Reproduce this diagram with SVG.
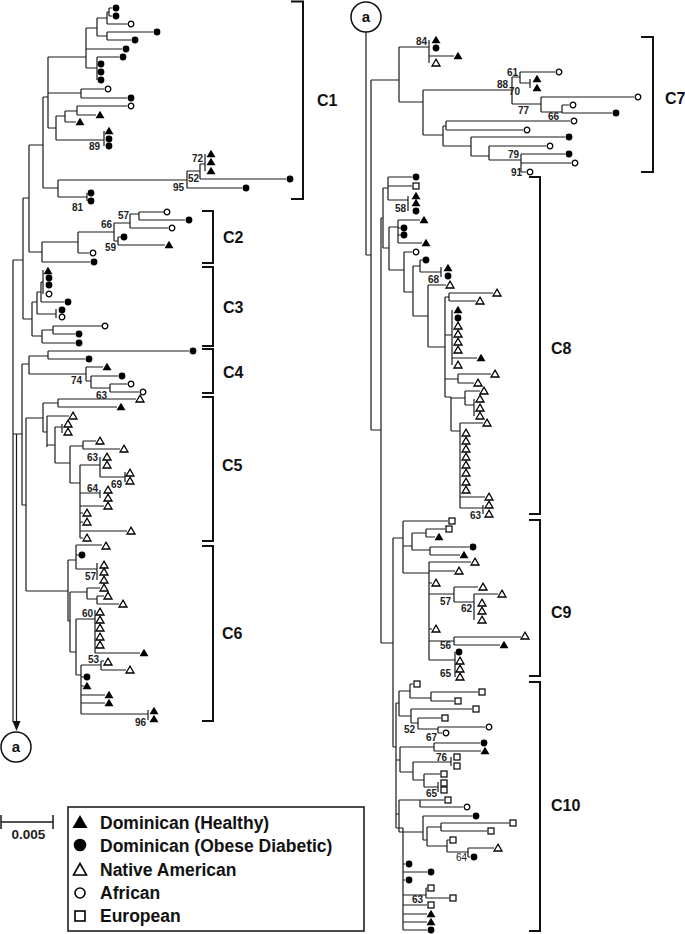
<svg xmlns="http://www.w3.org/2000/svg" width="685" height="934" viewBox="0 0 685 934">
<style>
.br{fill:none;stroke:#1a1a1a;stroke-width:1.2}
.bk{fill:none;stroke:#111;stroke-width:2}
.bs{font-family:"Liberation Sans",Arial,sans-serif;font-weight:bold;font-size:10px;fill:#222;text-anchor:end}
.cl{font-family:"Liberation Sans",Arial,sans-serif;font-weight:bold;font-size:16px;fill:#111}
.lg{font-family:"Liberation Sans",Arial,sans-serif;font-weight:bold;font-size:17.5px;fill:#111}
.ac{font-family:"Liberation Sans",Arial,sans-serif;font-weight:bold;font-size:15px;fill:#111;text-anchor:middle}
</style>
<defs>
<polygon id="T" points="0,-4.2 4.5,3.3 -4.5,3.3" fill="#000"/>
<polygon id="t" points="0,-3.8 4,3 -4,3" fill="#fff" stroke="#000" stroke-width="1.3"/>
<circle id="C" r="3.4" fill="#000"/>
<circle id="c" r="2.8" fill="#fff" stroke="#000" stroke-width="1.3"/>
<rect id="s" x="-3" y="-3" width="6" height="6" fill="#fff" stroke="#000" stroke-width="1.2"/>
</defs>
<rect width="685" height="934" fill="#fff"/>

<g id="connectors">
<path class="br" d="M13 260V722M13 260H23M13 434H22M16.5 434V722M23 198V319M23 198H29M23 319H32M29 145V252M29 145H43M29 252H42"/>
<polygon points="16.5,731 12.5,721 20.5,721" fill="#111"/>
<path class="br" d="M43 97V188M43 97H48M43 188H58M48 57V128M48 57H86M48 93H81M48 128H56M86 28V68M86 28H97M86 49H122M86 68H97M97 18V36M97 18H107M97 36H107M107 12V24M107 12H109M107 24H127M109 8V16M109 8H112M109 16H112M107 32V40M107 32H153M107 40H131M97 57V80M97 57H119M81 89V98M81 89H104M81 98H127M56 116V140M56 116H65M56 140H104M65 111V122M65 111H77M65 122H76M77 106V115M77 106H127M77 115H96M104 131V146M58 180V197M58 180H187M58 197H87M87 193V201M187 171V188M187 171H200M187 188H242M200 164V179M200 164H205M200 179H286M205 154V171"/>
<path class="br" d="M42 242V262M42 242H78M42 262H90M78 232V253M78 232H114M78 253H89M114 223V241M114 223H130M114 241H118M130 214V228M130 214H139M130 228H168M139 212V220M139 212H164M139 220H185M118 237V245M118 237H121M118 245H165"/>
<path class="br" d="M32 302V336M32 302H37M32 336H42M37 292V314M37 292H41M37 314H56M41 282V302M41 282H43M41 302H64M43 270V294M56 309V318M42 330V343M42 330H53M42 343H75M53 326V334M53 326H102M53 334H75"/>
<path class="br" d="M22 364V505M22 505H26M22 364H29M29 356V374M29 356H48M29 374H86M48 351V359M48 351H189M48 359H85M86 367V381M86 367H103M86 381H91M91 376V388M91 376H118M91 388H110M110 384V392M110 384H127M110 392H139"/>
<path class="br" d="M26 418V591M26 418H43M26 591H68M43 403V432M43 403H58M43 432H47M58 399V407M58 399H136M58 407H117M47 416V447M47 416H69M47 445H55M55 427V463M55 427H62M55 463H70M62 424V433M70 446V483M70 446H83M70 483H80M83 441V449M83 441H96M83 449H120M80 465V538M80 465H100M80 493H100M80 506H104M80 531H127M80 513H83M80 522H83M80 538H83M100 457V477M100 477H125M125 472V482M100 490V498"/>
<path class="br" d="M68 560V621M68 560H76M68 621H70M76 545V569M76 545H102M76 569H97M76 555H79M97 563V580M70 592V652M70 592H87M70 652H76M87 588V599M87 588H100M87 599H97M97 596V604M97 596H104M97 604H119M76 619V675M76 619H95M76 675H81M95 610V653M95 653H140M81 665V714M81 665H101M81 695H105M81 703H105M81 714H148M81 677H84M81 686H84M101 661V670M101 661H104M101 670H126M148 710V720"/>
<path class="br" d="M366 32V255M366 255H371M371 80V430M371 80H399M371 430H381"/>
<path class="br" d="M399 47V102M399 47H429M399 102H423M429 40V63M429 56H454M423 90V135M423 90H512M423 135H443M512 77V104M512 77H520M512 104H541M520 72V83M520 72H555M520 83H530M530 79V88M541 97V112M541 97H634M541 112H562M562 105V113M562 105H569M562 113H612M443 126V146M443 126H446M443 146H471M446 121V130M446 121H570M446 130H523M471 137V156M471 137H565M471 156H489M489 146V160M489 146H546M489 160H521M521 154V172M521 154H565M521 163H571M521 172H526"/>
<path class="br" d="M381 218V643M381 218H383M381 643H393M383 188V248M383 188H388M383 248H389M388 177V200M388 177H412M388 186H412M388 200H408M408 196V211M389 227V270M389 227H398M389 270H404M398 220V243M398 220H420M398 243H422M398 228H401M398 235H401M404 252V292M404 252H412M404 292H413M413 266V316M413 266H420M413 316H428M420 260V272M420 260H423M420 272H441M441 267V277M428 285V347M428 285H446M428 347H445M445 297V397M445 297H449M445 335H452M445 379H458M445 397H451M449 293V301M449 293H493M449 301H476M452 310V365M452 358H477M458 374V383M458 374H491M458 383H474M451 397V431M451 398H465M451 431H460M465 391V405M465 391H480M465 405H474M474 399V416M460 423V508M460 423H483M460 497H485M460 508H483M483 505V514"/>
<path class="br" d="M393 538V747M393 538H403M393 747H396M403 521V573M403 521H448M403 546H412M403 573H429M412 533V550M412 533H426M412 550H430M426 529V537M426 529H445M426 537H435M430 547V555M430 547H469M430 555H460M429 562V660M429 562H471M429 571H455M429 583H432M429 594H454M429 629H432M429 641H454M429 660H455M454 587V602M454 587H478M454 602H474M474 594V620M474 594H498M454 637V645M454 637H521M454 645H500M455 652V677"/>
<path class="br" d="M396 703V828M396 703H399M396 760H400M396 814H399M396 828H403M399 691V716M399 691H410M399 716H411M410 684V698M410 684H413M410 698H431M431 692V701M431 692H478M431 701H454M411 709V723M411 709H472M411 723H418M418 718V729M418 718H441M418 729H438M438 727V733M438 727H485M438 733H442M400 747V772M400 747H434M400 772H413M434 743V751M434 743H480M434 751H481M413 762V780M413 762H451M413 780H424M451 757V766M424 774V787M424 774H440M424 787H438M438 782V792M399 800V832M399 800H420M399 832H423M420 800V807M420 800H444M420 807H463M423 816V840M423 816H472M423 840H427M427 827V846M427 827H441M427 846H447M441 823V831M441 823H509M441 831H487M447 840V852M447 840H449M447 852H468M468 848V857M468 848H494M468 857H470M403 828V930M403 864H405M403 872H427M403 880H405M403 895H426M403 905H427M403 914H427M403 922H427M403 930H427M426 888V898M426 888H427M426 898H449"/>
</g>

<g id="C1">
<use href="#C" x="116" y="8"/><use href="#C" x="116" y="16"/><use href="#c" x="131" y="24"/><use href="#C" x="157" y="32"/><use href="#C" x="135" y="40"/><use href="#C" x="126" y="49"/><use href="#C" x="123" y="57"/><use href="#C" x="101" y="64"/><use href="#C" x="101" y="72"/><use href="#C" x="101" y="80"/><use href="#c" x="108" y="89"/><use href="#C" x="131" y="98"/><use href="#c" x="131" y="106"/><use href="#T" x="100" y="115"/><use href="#T" x="80" y="122"/><use href="#T" x="109" y="131"/><use href="#C" x="109" y="139"/><use href="#C" x="109" y="146"/><use href="#T" x="211" y="154"/><use href="#T" x="211" y="162"/><use href="#T" x="211" y="171"/><use href="#C" x="290" y="179"/><use href="#C" x="246" y="188"/><use href="#C" x="91" y="193"/><use href="#C" x="91" y="201"/>
<text class="bs" x="100" y="150">89</text><text class="bs" x="203" y="162">72</text><text class="bs" x="199" y="182">52</text><text class="bs" x="184" y="191">95</text><text class="bs" x="83" y="211">81</text>
<path class="bk" d="M291 1.5H303V199H291"/><text class="cl" x="317" y="106">C1</text>
</g>

<g id="C2">
<use href="#c" x="167" y="212"/><use href="#C" x="189" y="220"/><use href="#c" x="172" y="228"/><use href="#C" x="124" y="237"/><use href="#T" x="169" y="245"/><use href="#c" x="93" y="253"/><use href="#C" x="94" y="262"/>
<text class="bs" x="129" y="219">57</text><text class="bs" x="112" y="228">66</text><text class="bs" x="116" y="251">59</text>
<path class="bk" d="M202 211H213V263H202"/><text class="cl" x="223" y="243">C2</text>
</g>

<g id="C3">
<use href="#T" x="48" y="271"/><use href="#C" x="49" y="278"/><use href="#C" x="49" y="285"/><use href="#c" x="49" y="294"/><use href="#C" x="68" y="302"/><use href="#C" x="62" y="310"/><use href="#c" x="62" y="317"/><use href="#c" x="105" y="326"/><use href="#C" x="79" y="334"/><use href="#C" x="79" y="343"/>
<path class="bk" d="M202 267H213V346H202"/><text class="cl" x="223" y="313">C3</text>
</g>

<g id="C4">
<use href="#C" x="193" y="351"/><use href="#C" x="89" y="359"/><use href="#T" x="107" y="367"/><use href="#C" x="122" y="376"/><use href="#c" x="131" y="384"/><use href="#c" x="143" y="392"/>
<text class="bs" x="82" y="384">74</text><text class="bs" x="107" y="399">63</text>
<path class="bk" d="M202 349H213V393H202"/><text class="cl" x="223" y="378">C4</text>
</g>

<g id="C5">
<use href="#t" x="140" y="399"/><use href="#T" x="121" y="407"/><use href="#t" x="73" y="416"/><use href="#t" x="68" y="424"/><use href="#t" x="68" y="432"/><use href="#t" x="100" y="441"/><use href="#t" x="124" y="449"/><use href="#t" x="107" y="457"/><use href="#t" x="107" y="465"/><use href="#t" x="130" y="473"/><use href="#t" x="130" y="481"/><use href="#t" x="108" y="490"/><use href="#t" x="108" y="498"/><use href="#t" x="108" y="506"/><use href="#t" x="87" y="513"/><use href="#t" x="87" y="522"/><use href="#t" x="131" y="531"/><use href="#t" x="87" y="538"/>
<text class="bs" x="98" y="461">63</text><text class="bs" x="122" y="488">69</text><text class="bs" x="98" y="492">64</text>
<path class="bk" d="M202 397H213V541H202"/><text class="cl" x="222" y="471">C5</text>
</g>

<g id="C6">
<use href="#t" x="106" y="546"/><use href="#C" x="82" y="555"/><use href="#t" x="104" y="565"/><use href="#t" x="104" y="572"/><use href="#t" x="104" y="580"/><use href="#t" x="104" y="588"/><use href="#t" x="108" y="596"/><use href="#t" x="123" y="604"/><use href="#t" x="100" y="612"/><use href="#t" x="100" y="620"/><use href="#t" x="100" y="628"/><use href="#t" x="100" y="637"/><use href="#t" x="100" y="645"/><use href="#T" x="144" y="653"/><use href="#t" x="108" y="662"/><use href="#t" x="130" y="670"/><use href="#C" x="87" y="677"/><use href="#T" x="87" y="686"/><use href="#T" x="109" y="695"/><use href="#T" x="109" y="703"/><use href="#T" x="154" y="711"/><use href="#T" x="154" y="719"/>
<text class="bs" x="96" y="580">57</text><text class="bs" x="93" y="617">60</text><text class="bs" x="99" y="663">53</text><text class="bs" x="146" y="726">96</text>
<path class="bk" d="M202 546H213V721H202"/><text class="cl" x="222" y="639">C6</text>
</g>

<g id="a-left">
<circle cx="16" cy="747" r="15" fill="#fff" stroke="#111" stroke-width="1.5"/><text class="ac" x="16" y="752">a</text>
</g>
<g id="a-right">
<circle cx="366" cy="17" r="15" fill="#fff" stroke="#111" stroke-width="1.5"/><text class="ac" x="366" y="22">a</text>
</g>

<g id="C7">
<use href="#T" x="436" y="40"/><use href="#C" x="436" y="48"/><use href="#T" x="458" y="56"/><use href="#t" x="436" y="63"/><use href="#c" x="559" y="72"/><use href="#T" x="537" y="79"/><use href="#T" x="537" y="88"/><use href="#c" x="638" y="97"/><use href="#c" x="573" y="105"/><use href="#C" x="616" y="113"/><use href="#c" x="574" y="121"/><use href="#c" x="527" y="130"/><use href="#C" x="569" y="137"/><use href="#c" x="550" y="146"/><use href="#C" x="569" y="154"/><use href="#c" x="575" y="163"/><use href="#c" x="530" y="172"/>
<text class="bs" x="427" y="45">84</text><text class="bs" x="518" y="76">61</text><text class="bs" x="508" y="88">88</text><text class="bs" x="520" y="95">70</text><text class="bs" x="529" y="114">77</text><text class="bs" x="559" y="120">66</text><text class="bs" x="519" y="158">79</text><text class="bs" x="522" y="176">91</text>
<path class="bk" d="M641 37H653V172H641"/><text class="cl" x="665" y="104">C7</text>
</g>

<g id="C8">
<use href="#C" x="416" y="177"/><use href="#s" x="416" y="186"/><use href="#T" x="416" y="196"/><use href="#T" x="416" y="203"/><use href="#C" x="416" y="211"/><use href="#T" x="424" y="220"/><use href="#C" x="404" y="228"/><use href="#C" x="404" y="235"/><use href="#T" x="426" y="243"/><use href="#c" x="416" y="252"/><use href="#C" x="426" y="260"/><use href="#T" x="448" y="268"/><use href="#C" x="448" y="276"/><use href="#t" x="450" y="285"/><use href="#t" x="497" y="293"/><use href="#t" x="480" y="301"/><use href="#T" x="458" y="310"/><use href="#C" x="458" y="318"/><use href="#t" x="458" y="326"/><use href="#t" x="458" y="334"/><use href="#t" x="458" y="342"/><use href="#t" x="458" y="350"/><use href="#T" x="481" y="358"/><use href="#t" x="458" y="365"/><use href="#t" x="495" y="374"/><use href="#t" x="478" y="383"/><use href="#t" x="484" y="391"/><use href="#t" x="480" y="399"/><use href="#t" x="480" y="408"/><use href="#t" x="480" y="416"/><use href="#t" x="487" y="423"/><use href="#t" x="466" y="433"/><use href="#t" x="466" y="441"/><use href="#t" x="466" y="449"/><use href="#t" x="466" y="457"/><use href="#t" x="466" y="465"/><use href="#t" x="466" y="473"/><use href="#t" x="466" y="482"/><use href="#t" x="466" y="490"/><use href="#t" x="489" y="497"/><use href="#t" x="489" y="505"/><use href="#t" x="489" y="514"/>
<text class="bs" x="406" y="212">58</text><text class="bs" x="439" y="283">68</text><text class="bs" x="481" y="519">63</text>
<path class="bk" d="M529 177H540V514H529"/><text class="cl" x="551" y="354">C8</text>
</g>

<g id="C9">
<use href="#s" x="452" y="521"/><use href="#s" x="449" y="529"/><use href="#T" x="439" y="537"/><use href="#C" x="473" y="547"/><use href="#T" x="464" y="555"/><use href="#t" x="475" y="562"/><use href="#t" x="459" y="571"/><use href="#t" x="436" y="583"/><use href="#t" x="483" y="587"/><use href="#t" x="502" y="594"/><use href="#t" x="482" y="603"/><use href="#t" x="482" y="611"/><use href="#t" x="482" y="620"/><use href="#t" x="436" y="629"/><use href="#t" x="525" y="636"/><use href="#T" x="504" y="645"/><use href="#C" x="459" y="652"/><use href="#t" x="460" y="661"/><use href="#t" x="460" y="669"/><use href="#t" x="460" y="677"/>
<text class="bs" x="451" y="605">57</text><text class="bs" x="472" y="612">62</text><text class="bs" x="451" y="649">56</text><text class="bs" x="451" y="677">65</text>
<path class="bk" d="M529 520H540V676H529"/><text class="cl" x="551" y="618">C9</text>
</g>

<g id="C10">
<use href="#s" x="417" y="684"/><use href="#s" x="482" y="692"/><use href="#s" x="458" y="701"/><use href="#s" x="476" y="709"/><use href="#s" x="445" y="718"/><use href="#c" x="489" y="727"/><use href="#c" x="446" y="733"/><use href="#C" x="484" y="743"/><use href="#T" x="485" y="751"/><use href="#s" x="457" y="757"/><use href="#s" x="457" y="766"/><use href="#s" x="444" y="774"/><use href="#s" x="444" y="783"/><use href="#s" x="444" y="790"/><use href="#s" x="448" y="800"/><use href="#c" x="467" y="807"/><use href="#C" x="476" y="816"/><use href="#s" x="513" y="823"/><use href="#s" x="491" y="831"/><use href="#s" x="453" y="840"/><use href="#t" x="498" y="848"/><use href="#C" x="474" y="857"/><use href="#C" x="409" y="864"/><use href="#C" x="431" y="872"/><use href="#C" x="409" y="880"/><use href="#s" x="431" y="888"/><use href="#s" x="453" y="898"/><use href="#s" x="431" y="905"/><use href="#T" x="431" y="914"/><use href="#T" x="431" y="922"/><use href="#C" x="431" y="930"/>
<text class="bs" x="415" y="733">52</text><text class="bs" x="437" y="741">67</text><text class="bs" x="447" y="761">76</text><text class="bs" x="437" y="797">65</text><text class="bs" x="467" y="861" style="font-weight:normal">64</text><text class="bs" x="423" y="903">63</text>
<path class="bk" d="M529 682H540V931H529"/><text class="cl" x="551" y="811">C10</text>
</g>

<g id="scale">
<path class="br" d="M1 815V829M1 822H53M53 815V829" style="stroke-width:1.5"/>
<text class="bs" x="28.5" y="838.5" style="text-anchor:middle;font-size:13.5px">0.005</text>
</g>

<g id="legend">
<rect x="68" y="807" width="296" height="124" fill="#fff" stroke="#111" stroke-width="1.5"/>
<polygon points="80,815 87.5,828 72.5,828" fill="#000"/>
<circle cx="80" cy="845" r="6.3" fill="#000"/>
<polygon points="80,863.5 86.5,875 73.5,875" fill="#fff" stroke="#000" stroke-width="1.6"/>
<circle cx="80" cy="893" r="5" fill="#fff" stroke="#000" stroke-width="1.6"/>
<rect x="75" y="911" width="10" height="10" fill="#fff" stroke="#000" stroke-width="1.6"/>
<text class="lg" x="100" y="828.5">Dominican (Healthy)</text>
<text class="lg" x="100" y="851.5">Dominican (Obese Diabetic)</text>
<text class="lg" x="100" y="876">Native American</text>
<text class="lg" x="100" y="899">African</text>
<text class="lg" x="100" y="922">European</text>
</g>
</svg>
